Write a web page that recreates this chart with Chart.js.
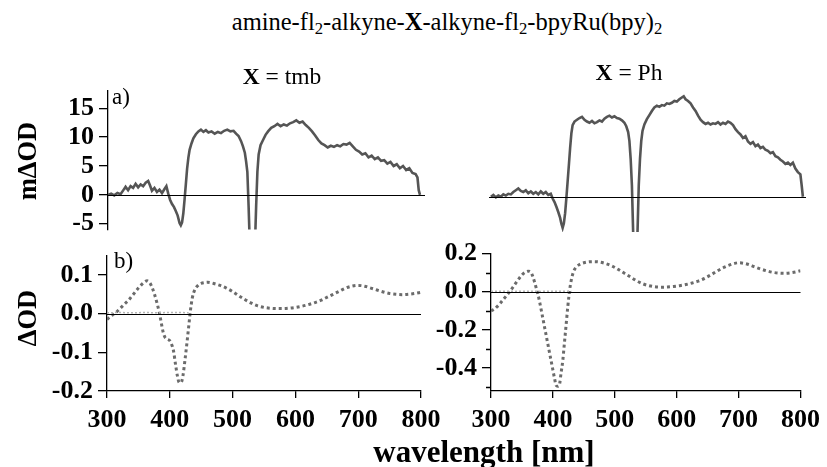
<!DOCTYPE html>
<html>
<head>
<meta charset="utf-8">
<script src="https://cdn.jsdelivr.net/npm/chart.js@4"></script>
<style>
  body { margin: 0; width: 827px; height: 467px; background: #fff; position: relative; overflow: hidden;
         font-family: "Liberation Serif", "Times New Roman", serif; color: #000; }
  canvas { position: absolute; }
  .t { position: absolute; white-space: nowrap; transform: translate(-50%, -50%); line-height: 1; }
  .l { position: absolute; white-space: nowrap; line-height: 1; transform: translateY(-50%); }
  .rot { transform: translate(-50%, -50%) rotate(-90deg); }
  sub { font-size: 0.68em; vertical-align: -0.28em; line-height: 0; }
  #title { left: 447px; top: 22px; font-size: 24.5px; }
  #capL { left: 282px; top: 77px; font-size: 23.5px; }
  #capR { left: 629px; top: 73px; font-size: 23.5px; }
  #labA { left: 112px; top: 96px; font-size: 23px; }
  #labB { left: 114px; top: 260px; font-size: 23px; }
  #yTop { left: 27px; top: 161px; font-size: 26.5px; font-weight: bold; }
  #yBot { left: 27px; top: 318px; font-size: 26.5px; font-weight: bold; }
  #xLab { left: 484px; top: 451px; font-size: 31px; font-weight: bold; }
</style>
</head>
<body>
<canvas id="cTL"></canvas>
<canvas id="cTR"></canvas>
<canvas id="cBL"></canvas>
<canvas id="cBR"></canvas>

<div class="t" id="title">amine-fl<sub>2</sub>-alkyne-<b>X</b>-alkyne-fl<sub>2</sub>-bpyRu(bpy)<sub>2</sub></div>
<div class="t" id="capL"><b>X</b> = tmb</div>
<div class="t" id="capR"><b>X</b> = Ph</div>
<div class="l" id="labA">a)</div>
<div class="l" id="labB">b)</div>
<div class="t rot" id="yTop">mΔOD</div>
<div class="t rot" id="yBot">ΔOD</div>
<div class="t" id="xLab">wavelength [nm]</div>

<script>
// ---- transient spectra, panel a (mΔOD) ----
const tmbWl = [300,305,310,315,320,325,328,332,336,340,344,348,352,356,360,364,367,370,374,378,382,386,390,393,396,399,402,405,408,411,414,416,418,420,422,424,426,428,430,433,436,440,444,448,452,456,460,465,470,475,480,485,490,495,500,504,508,512,515,518,520,522,524,526,528,532,534,536,538,540,543,547,551,555,560,565,570,575,580,585,590,595,600,605,610,615,620,625,630,635,640,645,650,655,660,665,670,675,680,685,690,695,700,705,710,715,720,725,730,735,740,745,750,755,760,765,770,775,780,785,790,793,795,797];
const tmbMOD = [0.0,0.2,-0.1,0.3,0.1,0.9,1.4,0.8,1.5,1.2,1.9,1.3,1.8,1.5,2.1,2.4,1.6,0.7,1.2,0.5,0.9,0.3,1.0,1.5,0.2,-0.9,-1.6,-2.1,-2.8,-3.6,-4.9,-5.3,-4.8,-3.2,-0.8,1.8,4.5,6.4,7.8,8.9,9.8,10.5,11.0,11.3,10.9,11.2,10.8,11.0,10.6,10.9,10.7,11.1,11.3,11.0,11.1,10.6,10.2,9.3,8.4,7.3,5.8,4.0,-2.0,-9.0,-20,-20,-9.0,-2.0,4.0,7.0,8.6,9.5,10.4,11.0,11.6,11.9,12.3,11.9,12.2,12.0,12.4,12.6,12.9,12.5,12.7,12.1,11.6,11.0,10.3,9.5,8.9,8.6,8.2,8.5,8.3,8.6,8.4,8.8,8.7,9.0,8.4,7.8,7.5,7.0,7.2,6.5,6.8,6.2,6.5,5.9,6.0,5.4,5.7,5.0,5.3,4.6,5.0,4.3,4.6,3.8,3.6,3.0,0.8,0.0];

const phWl = [300,304,308,312,316,320,324,328,332,336,340,344,348,352,356,360,364,368,372,376,380,384,388,392,396,399,402,405,408,411,413,415,417,419,421,423,425,427,429,431,434,438,442,446,450,454,458,462,466,470,474,478,482,486,490,494,498,502,506,510,514,517,520,522,524,526,528,529.5,533.5,535,537,539,541,543,546,550,554,558,562,566,570,574,578,582,586,590,594,598,602,606,609,612,616,620,624,628,632,636,640,644,648,652,656,660,664,668,672,676,680,684,688,692,696,700,704,708,712,716,720,724,728,732,736,740,744,748,752,756,760,764,768,772,776,780,784,788,792,796,798,800];
const phMOD = [0.0,0.3,-0.1,0.2,0.0,0.4,0.2,0.5,0.4,0.8,1.1,1.4,1.0,0.8,1.1,0.6,0.9,0.5,0.8,0.4,0.9,0.5,0.8,0.3,0.5,-0.3,-0.9,-1.7,-2.6,-3.6,-4.6,-5.3,-4.5,-2.8,-0.2,2.6,5.4,8.3,10.8,12.2,12.8,13.1,13.4,13.6,13.1,12.8,12.6,12.9,12.5,12.7,13.0,12.8,13.3,13.6,13.8,13.5,13.7,13.4,13.3,13.0,12.6,12.0,11.0,9.5,6.5,2.0,-6.0,-20,-20,-6.0,2.0,6.5,9.5,11.2,12.3,13.2,13.9,14.6,15.2,15.5,15.3,15.6,15.5,15.9,15.8,16.0,16.3,16.2,16.6,16.9,17.1,16.6,16.3,15.9,15.2,14.6,13.8,13.1,12.7,12.4,12.6,12.3,12.5,12.4,12.7,12.3,12.6,12.4,12.8,12.6,12.2,11.5,11.0,10.6,10.0,10.3,9.4,9.0,9.3,8.6,8.9,8.3,8.5,8.0,7.8,7.4,7.6,6.9,6.7,6.3,6.0,5.6,5.8,5.4,5.8,4.8,4.2,3.8,2.0,0.0];

// ---- difference spectra, panel b (ΔOD) ----
const tmbDiffWl = [300,305,310,315,320,325,330,335,340,345,350,355,360,364,368,372,376,380,383,386,389,392,396,400,403,406,409,412,415,418,421,424,427,430,433,436,440,445,450,455,460,465,470,480,490,500,510,520,530,540,550,560,570,580,590,600,610,620,630,640,650,660,670,680,690,700,710,720,730,740,750,760,770,780,790,800];
const tmbDOD = [-0.015,-0.008,-0.002,0.004,0.012,0.02,0.028,0.036,0.046,0.056,0.066,0.075,0.082,0.085,0.08,0.067,0.048,0.025,0.005,-0.02,-0.045,-0.06,-0.066,-0.07,-0.08,-0.097,-0.13,-0.16,-0.178,-0.178,-0.16,-0.122,-0.08,-0.035,0.01,0.042,0.062,0.073,0.078,0.08,0.081,0.08,0.078,0.073,0.066,0.057,0.046,0.036,0.027,0.02,0.016,0.014,0.013,0.013,0.014,0.016,0.019,0.023,0.028,0.034,0.042,0.05,0.058,0.066,0.071,0.073,0.071,0.066,0.061,0.056,0.052,0.05,0.049,0.05,0.052,0.055];

const phDiffWl = [300,305,310,315,320,325,330,335,340,345,350,355,360,364,367,370,373,376,379,382,385,388,391,394,397,400,403,405,408,411,413,416,418,420,422,424,426,428,431,434,438,443,450,458,466,475,485,495,505,515,525,535,545,555,565,575,585,595,605,615,625,635,645,655,665,675,685,695,700,705,715,725,735,745,755,765,775,785,795,800];
const phDOD = [-0.1,-0.092,-0.078,-0.06,-0.04,-0.02,0.0,0.022,0.045,0.068,0.088,0.102,0.108,0.104,0.085,0.055,0.02,-0.015,-0.06,-0.11,-0.16,-0.21,-0.26,-0.31,-0.36,-0.41,-0.46,-0.49,-0.495,-0.48,-0.43,-0.36,-0.29,-0.22,-0.15,-0.08,-0.02,0.03,0.08,0.11,0.13,0.143,0.152,0.157,0.158,0.156,0.148,0.136,0.118,0.098,0.078,0.058,0.042,0.032,0.026,0.024,0.025,0.028,0.032,0.038,0.046,0.056,0.07,0.088,0.108,0.126,0.14,0.15,0.152,0.151,0.144,0.132,0.12,0.11,0.102,0.098,0.097,0.1,0.106,0.11];

// faint reference trace lying on the baseline in the UV region
const baseWl = [300,320,340,360,380,400,415,430];
const baseDOD = [0.002,0.003,0.002,0.003,0.002,0.003,0.003,0.002];

// ---- axis ticks ----
const waveTicks = [300, 400, 500, 600, 700, 800];
const modTicks = [-5, 0, 5, 10, 15];
const tmbDodTicks = [-0.2, -0.1, 0.0, 0.1];
const phDodTicks = [-0.4, -0.2, 0.0, 0.2];
const phDodMinor = [-0.5, -0.3, -0.1, 0.1];

const pts = (xs, ys) => xs.map((x, i) => ({ x: x, y: ys[i] }));
const TICK_FONT = { family: '"Liberation Serif", "Times New Roman", serif', size: 26, weight: 'bold' };

// horizontal baseline at y = 0 across the plot area
const zeroLine = {
  id: 'zeroLine',
  afterDatasetsDraw(chart) {
    const { ctx, chartArea: a, scales: { y } } = chart;
    const py = Math.round(y.getPixelForValue(0)) + 0.5;
    ctx.save();
    ctx.strokeStyle = '#000';
    ctx.lineWidth = 1.2;
    ctx.beginPath();
    ctx.moveTo(a.left, py);
    ctx.lineTo(a.right, py);
    ctx.stroke();
    ctx.restore();
  }
};

// short unlabelled ticks on the y axis
const minorTicks = {
  id: 'minorTicks',
  afterDraw(chart, args, opts) {
    if (!opts.values || !opts.values.length) return;
    const { ctx, chartArea: a, scales: { y } } = chart;
    ctx.save();
    ctx.strokeStyle = '#000';
    ctx.lineWidth = 1.3;
    ctx.beginPath();
    opts.values.forEach(v => {
      const py = Math.round(y.getPixelForValue(v)) + 0.5;
      ctx.moveTo(a.left - opts.len, py);
      ctx.lineTo(a.left, py);
    });
    ctx.stroke();
    ctx.restore();
  }
};

function panel(id, box, area, o) {
  const cv = document.getElementById(id);
  cv.width = box.w; cv.height = box.h;
  cv.style.left = box.x + 'px'; cv.style.top = box.y + 'px';
  const bottomGap = box.y + box.h - area.bottom;
  return new Chart(cv, {
    type: 'line',
    data: { datasets: o.datasets },
    options: {
      responsive: false, animation: false, events: [],
      layout: { padding: { left: 0, right: box.x + box.w - area.right, top: area.top - box.y, bottom: 0 } },
      plugins: { legend: { display: false }, tooltip: { enabled: false },
                 minorTicks: { values: o.minor || [], len: 5 } },
      scales: {
        x: {
          type: 'linear', min: o.xMin, max: o.xMax, display: o.showX,
          afterFit: s => { s.height = bottomGap; },
          afterBuildTicks: s => { s.ticks = waveTicks.map(v => ({ value: v })); },
          ticks: { font: TICK_FONT, color: '#000', padding: 7, maxRotation: 0, autoSkip: false,
                   callback: v => String(v) },
          grid: { drawOnChartArea: false, drawTicks: true, tickLength: 7, color: '#000', lineWidth: 1.3 },
          border: { display: true, color: '#000', width: 1.3 }
        },
        y: {
          type: 'linear', min: o.yMin, max: o.yMax, display: o.showY,
          afterFit: s => { s.width = area.left - box.x; },
          afterBuildTicks: s => { s.ticks = (o.yTicks || []).map(v => ({ value: v })); },
          ticks: { font: TICK_FONT, color: '#000', padding: 5, autoSkip: false,
                   callback: v => v.toFixed(o.dec) },
          grid: { drawOnChartArea: false, drawTicks: true, tickLength: 9, color: '#000', lineWidth: 1.3 },
          border: { display: true, color: '#000', width: 1.3 }
        }
      }
    },
    plugins: [zeroLine, minorTicks]
  });
}

const solid = d => ({ data: d, borderColor: '#555', borderWidth: 2.6, pointRadius: 0, tension: 0, fill: false });
const dotted = d => ({ data: d, borderColor: '#6b6b6b', borderWidth: 3, borderDash: [3, 3], pointRadius: 0,
                       cubicInterpolationMode: 'monotone', fill: false });
const faint = d => ({ data: d, borderColor: '#b5b5b5', borderWidth: 1.5, borderDash: [2, 2], pointRadius: 0, fill: false });

// a) X = tmb
panel('cTL', { x: 10, y: 70, w: 440, h: 180 }, { left: 108, right: 425, top: 91, bottom: 232 }, {
  datasets: [solid(pts(tmbWl, tmbMOD))],
  xMin: 300, xMax: 805, yMin: -6, yMax: 18, yTicks: modTicks, dec: 0, showX: false, showY: true
});
// a) X = Ph
panel('cTR', { x: 460, y: 70, w: 367, h: 180 }, { left: 489, right: 806, top: 91, bottom: 232 }, {
  datasets: [solid(pts(phWl, phMOD))],
  xMin: 297, xMax: 805, yMin: -6, yMax: 18, yTicks: modTicks, dec: 0, showX: false, showY: false
});
// b) X = tmb
panel('cBL', { x: 10, y: 235, w: 440, h: 232 }, { left: 107, right: 421, top: 252, bottom: 391 }, {
  datasets: [faint(pts(baseWl, baseDOD)), dotted(pts(tmbDiffWl, tmbDOD))],
  xMin: 300, xMax: 800, yMin: -0.2, yMax: 0.15, yTicks: tmbDodTicks, dec: 1, showX: true, showY: true
});
// b) X = Ph
panel('cBR', { x: 420, y: 233, w: 407, h: 234 }, { left: 491, right: 803, top: 250, bottom: 391 }, {
  datasets: [faint(pts(baseWl, baseDOD)), dotted(pts(phDiffWl, phDOD))],
  xMin: 300, xMax: 800, yMin: -0.52, yMax: 0.2, yTicks: phDodTicks, minor: phDodMinor, dec: 1,
  showX: true, showY: true
});
</script>
</body>
</html>
